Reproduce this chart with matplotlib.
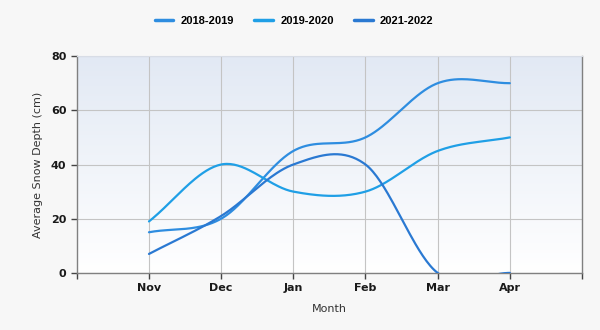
#!/usr/bin/env python3
import numpy as np
import matplotlib
matplotlib.use("Agg")
import matplotlib.pyplot as plt
from matplotlib.colors import LinearSegmentedColormap
from matplotlib.ticker import FixedLocator

months = ['Nov', 'Dec', 'Jan', 'Feb', 'Mar', 'Apr']
seasons = ['2018-2019', '2019-2020', '2021-2022']
depth_2018 = [15, 20, 45, 50, 70, 70]
depth_2019 = [19, 40, 30, 30, 45, 50]
depth_2021 = [7, 21, 40, 40, 0, 0]
colors = ['#2e8de0', '#1f9fe6', '#2a79d2']


def smooth(y, n=40):
    # cardinal spline through the points, like the "smooth" line style
    y = np.asarray(y, dtype=float)
    k = len(y)
    m = np.zeros(k)
    m[0] = y[1] - y[0]
    m[-1] = y[-1] - y[-2]
    for i in range(1, k - 1):
        m[i] = (y[i + 1] - y[i - 1]) / 2
    xs, ys = [], []
    t = np.linspace(0, 1, n)
    h00 = 2 * t**3 - 3 * t**2 + 1
    h10 = t**3 - 2 * t**2 + t
    h01 = -2 * t**3 + 3 * t**2
    h11 = t**3 - t**2
    for i in range(k - 1):
        xs.append(i + t)
        ys.append(h00 * y[i] + h10 * m[i] + h01 * y[i + 1] + h11 * m[i + 1])
    return np.concatenate(xs), np.concatenate(ys)


fig = plt.figure(figsize=(6, 3.3), dpi=100, facecolor='#f7f7f7')
ax = fig.add_axes([0.128, 0.173, 0.842, 0.657])
ax.set_facecolor('white')

# gradient plot background
cmap = LinearSegmentedColormap.from_list('bg', ['#ffffff', '#e2e9f4'])
grad = np.linspace(0, 1, 256).reshape(-1, 1)
ax.imshow(grad, cmap=cmap, aspect='auto', origin='lower',
          extent=[-1, 6, 0, 80], zorder=0)

for vals, c, lab in zip([depth_2018, depth_2019, depth_2021], colors, seasons):
    sx, sy = smooth(vals)
    ax.plot(sx, sy, color=c, lw=1.6, label=lab, zorder=3,
            solid_capstyle='round')

ax.set_xlim(-1, 6)
ax.set_ylim(0, 80)
ax.set_xticks(range(len(months)))
ax.set_xticklabels(months)
ax.xaxis.set_minor_locator(FixedLocator([-1, 6]))
ax.set_yticks([0, 20, 40, 60, 80])

ax.grid(True, color='#c4c4c4', lw=0.8, zorder=1)
ax.set_axisbelow(True)
for s in ['left', 'right', 'bottom']:
    ax.spines[s].set_color('#808080')
    ax.spines[s].set_linewidth(1.0)
ax.spines['top'].set_color('#d8dde6')
ax.spines['top'].set_linewidth(0.8)

ax.tick_params(axis='both', which='both', color='#444444', length=4, width=1)
ax.tick_params(axis='x', which='major', pad=3)
for lbl in ax.get_xticklabels() + ax.get_yticklabels():
    lbl.set_fontfamily('DejaVu Sans')
    lbl.set_fontweight('bold')
    lbl.set_fontsize(8)
    lbl.set_color('#1a1a1a')

ax.set_xlabel('Month', fontsize=8, color='#333333', labelpad=8)
ax.set_ylabel('Average Snow Depth (cm)', fontsize=8, color='#333333', labelpad=6)

leg = fig.legend(loc='center', bbox_to_anchor=(0.49, 0.937), ncol=3,
                 frameon=False, handlelength=1.7, handletextpad=0.65,
                 columnspacing=1.8,
                 prop={'family': 'Liberation Sans', 'weight': 'bold', 'size': 8})
for line in leg.get_lines():
    line.set_linewidth(2.5)

plt.savefig('out.png', dpi=100, facecolor=fig.get_facecolor())
